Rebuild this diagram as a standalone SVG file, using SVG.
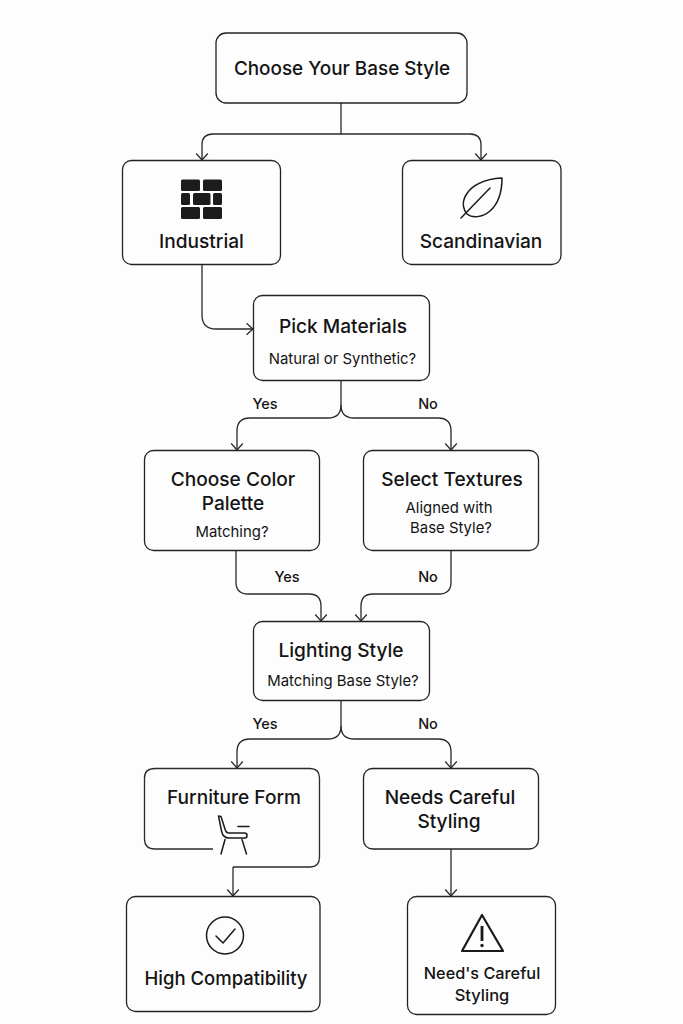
<svg xmlns="http://www.w3.org/2000/svg" width="683" height="1024" viewBox="0 0 683 1024">
<style>
.b{fill:#fdfdfd;stroke:#222;stroke-width:1.3}
.c{fill:none;stroke:#2a2a2a;stroke-width:1.3}
.i{fill:none;stroke:#1a1a1a;stroke-width:1.5;stroke-linecap:round;stroke-linejoin:round}
.h{fill:#1c1c1c;stroke:none}
text{font-family:Inter,"Liberation Sans",sans-serif;fill:#141414;text-anchor:middle}
.t{font-size:19.1px;font-weight:450}
.s{font-size:14.9px}
.l{font-size:14.5px;font-weight:500}
</style>
<defs><marker id="a" markerUnits="userSpaceOnUse" markerWidth="14" markerHeight="14" refX="9.500" refY="7" orient="auto" viewBox="0 0 14 14"><path d="M3 1.200L9.500 7L3 12.800" fill="none" stroke="#2a2a2a" stroke-width="1.3"/></marker></defs>
<rect width="683" height="1024" fill="#fdfdfd"/>
<g id="connectors">
<path class="c" marker-end="url(#a)" d="M341 103V134H213Q202 134 202 145V160"/>
<path class="c" marker-end="url(#a)" d="M341 134H470Q481 134 481 145V160"/>
<path class="c" marker-end="url(#a)" d="M202 265V315Q202 329 216 329H253"/>
<path class="c" marker-end="url(#a)" d="M341 381V405Q341 418 328 418H250Q237 418 237 431V450"/>
<path class="c" marker-end="url(#a)" d="M341 405Q341 418 354 418H438Q451 418 451 431V450"/>
<path class="c" marker-end="url(#a)" d="M236 551V582Q236 594 248 594H309Q321 594 321 606V621"/>
<path class="c" marker-end="url(#a)" d="M451 551V582Q451 594 439 594H373Q361 594 361 606V621"/>
<path class="c" marker-end="url(#a)" d="M341 701V726Q341 739 328 739H250Q237 739 237 752V768"/>
<path class="c" marker-end="url(#a)" d="M341 726Q341 739 354 739H438Q451 739 451 752V768"/>
<path class="c" marker-end="url(#a)" d="M233 867V896"/>
<path class="c" marker-end="url(#a)" d="M451 849V896"/>
</g>
<g id="n-base"><rect class="b" x="216" y="33" width="251" height="70" rx="10"/><text class="t" x="342" y="74.500" font-size="18.900" style="font-size:18.900px">Choose Your Base Style</text></g>
<g id="n-industrial"><rect class="b" x="122.500" y="160.500" width="158" height="104" rx="9"/>
<g class="h"><rect x="181" y="179.500" width="19" height="11.500" rx="1.500"/><rect x="203" y="179.500" width="19" height="11.500" rx="1.500"/><rect x="181" y="193" width="9" height="12" rx="1.500"/><rect x="193" y="193" width="17.500" height="12" rx="1.500"/><rect x="213" y="193" width="9" height="12" rx="1.500"/><rect x="181" y="207" width="19" height="12" rx="1.500"/><rect x="203" y="207" width="19" height="12" rx="1.500"/></g>
<text class="t" x="201.500" y="247.500">Industrial</text></g>
<g id="n-scandinavian"><rect class="b" x="402.500" y="160.500" width="158.500" height="104" rx="9"/>
<path class="i" d="M502 178C485 179 472 185 466 195C461 203 464 211 467 214C472 218 482 218 490 211C498 204 502 192 502 178Z"/><path class="i" d="M461 218L490 188"/>
<text class="t" x="481" y="247.500">Scandinavian</text></g>
<g id="n-materials"><rect class="b" x="253.500" y="295.500" width="176" height="85" rx="9"/><text class="t" x="343" y="332.500">Pick Materials</text><text class="s" x="342.500" y="364">Natural or Synthetic?</text></g>
<g id="n-color"><rect class="b" x="144.500" y="450.500" width="175" height="100" rx="9"/><text class="t" x="233" y="485.500">Choose Color</text><text class="t" x="233" y="509.500">Palette</text><text class="s" x="232" y="537">Matching?</text></g>
<g id="n-textures"><rect class="b" x="363.500" y="450.500" width="175" height="100" rx="9"/><text class="t" x="452" y="485.500">Select Textures</text><text class="s" x="449" y="513">Aligned with</text><text class="s" x="451" y="533">Base Style?</text></g>
<g id="n-lighting"><rect class="b" x="253.500" y="621.500" width="176" height="79" rx="9"/><text class="t" x="341" y="656.500">Lighting Style</text><text class="s" x="343" y="686">Matching Base Style?</text></g>
<g id="n-furniture"><path class="c" d="M213 849H155Q144.500 849 144.500 839V778Q144.500 768.500 155 768.500H310Q319.500 768.500 319.500 778V857Q319.500 867 310 867H233"/><text class="t" x="234" y="803.500">Furniture Form</text>
<path class="i" d="M218.500 816L221.500 831Q223 838 229 838H245Q247 838 247 835.500Q247 833 244.500 833H229Q226 833 225 829L221 816.500Z"/><path class="i" d="M225 839.500L221 854M242 839.500L246.500 854M238 826.500H249"/></g>
<g id="n-careful1"><rect class="b" x="363.500" y="768.500" width="175" height="80.500" rx="9"/><text class="t" x="450" y="803.500">Needs Careful</text><text class="t" x="449" y="827.500">Styling</text></g>
<g id="n-high"><rect class="b" x="126.500" y="896.500" width="193.500" height="115" rx="9"/><circle class="i" cx="225" cy="935.500" r="18.500"/><path class="i" d="M216 936L223 943L235 929"/><text class="t" x="226" y="984.500" style="font-size:18.500px">High Compatibility</text></g>
<g id="n-careful2"><rect class="b" x="407.500" y="896.500" width="148" height="118" rx="9"/><path d="M482 915L503 951H462Z" fill="none" stroke="#1a1a1a" stroke-width="2.200" stroke-linejoin="round"/><path d="M482 926V941" stroke="#1a1a1a" stroke-width="2.800"/><circle class="h" cx="482" cy="945.500" r="1.700"/><text x="482" y="979" font-size="16.300" font-weight="500">Need's Careful</text><text x="482" y="1001" font-size="16.500" font-weight="500">Styling</text></g>
<g id="labels"><text class="l" x="265" y="408.500">Yes</text><text class="l" x="428" y="408.500">No</text><text class="l" x="287" y="582">Yes</text><text class="l" x="428" y="582">No</text><text class="l" x="265" y="729">Yes</text><text class="l" x="428" y="729">No</text></g>
</svg>
